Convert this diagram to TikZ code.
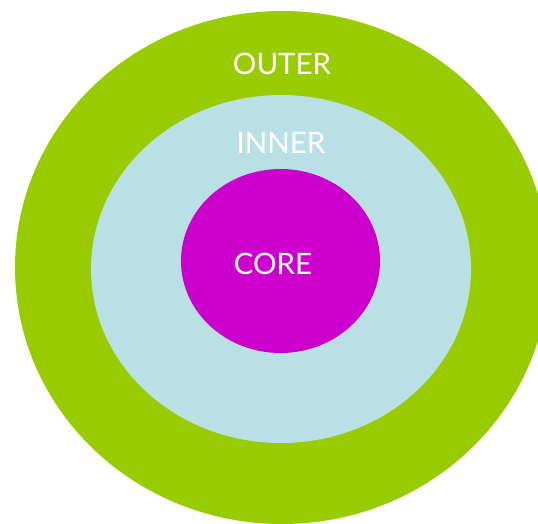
\documentclass[tikz,border=0pt]{standalone}
\usepackage{fontspec}
\setmainfont{Lato}
\usetikzlibrary{shapes.geometric}
\definecolor{ringgreen}{HTML}{99CC00}
\definecolor{ringblue}{HTML}{B9E0E4}
\definecolor{coremagenta}{HTML}{CC00CC}
\begin{document}
\begin{tikzpicture}[x=1pt,y=-1pt,
  ring/.style={ellipse,draw=none,inner sep=0pt},
  ringlabel/.style={text=white,font=\fontsize{29.5}{32}\selectfont,inner sep=0pt,anchor=center}]
\useasboundingbox (0,0) rectangle (538,523);
\clip (0,0) rectangle (538,523);
\node[ring,fill=ringgreen,minimum width=534pt,minimum height=513pt] (outer) at (282,267.5) {};
\node[ring,fill=ringblue,minimum width=380pt,minimum height=348pt] (inner) at (281,269) {};
\node[ring,fill=coremagenta,minimum width=199pt,minimum height=184pt] (core) at (280.5,261) {};
\node[ringlabel] (outerlabel) at (282,64) {OUTER};
\node[ringlabel] (innerlabel) at (281,143) {INNER};
\node[ringlabel] (corelabel) at (273,264) {CORE};
\end{tikzpicture}
\end{document}
